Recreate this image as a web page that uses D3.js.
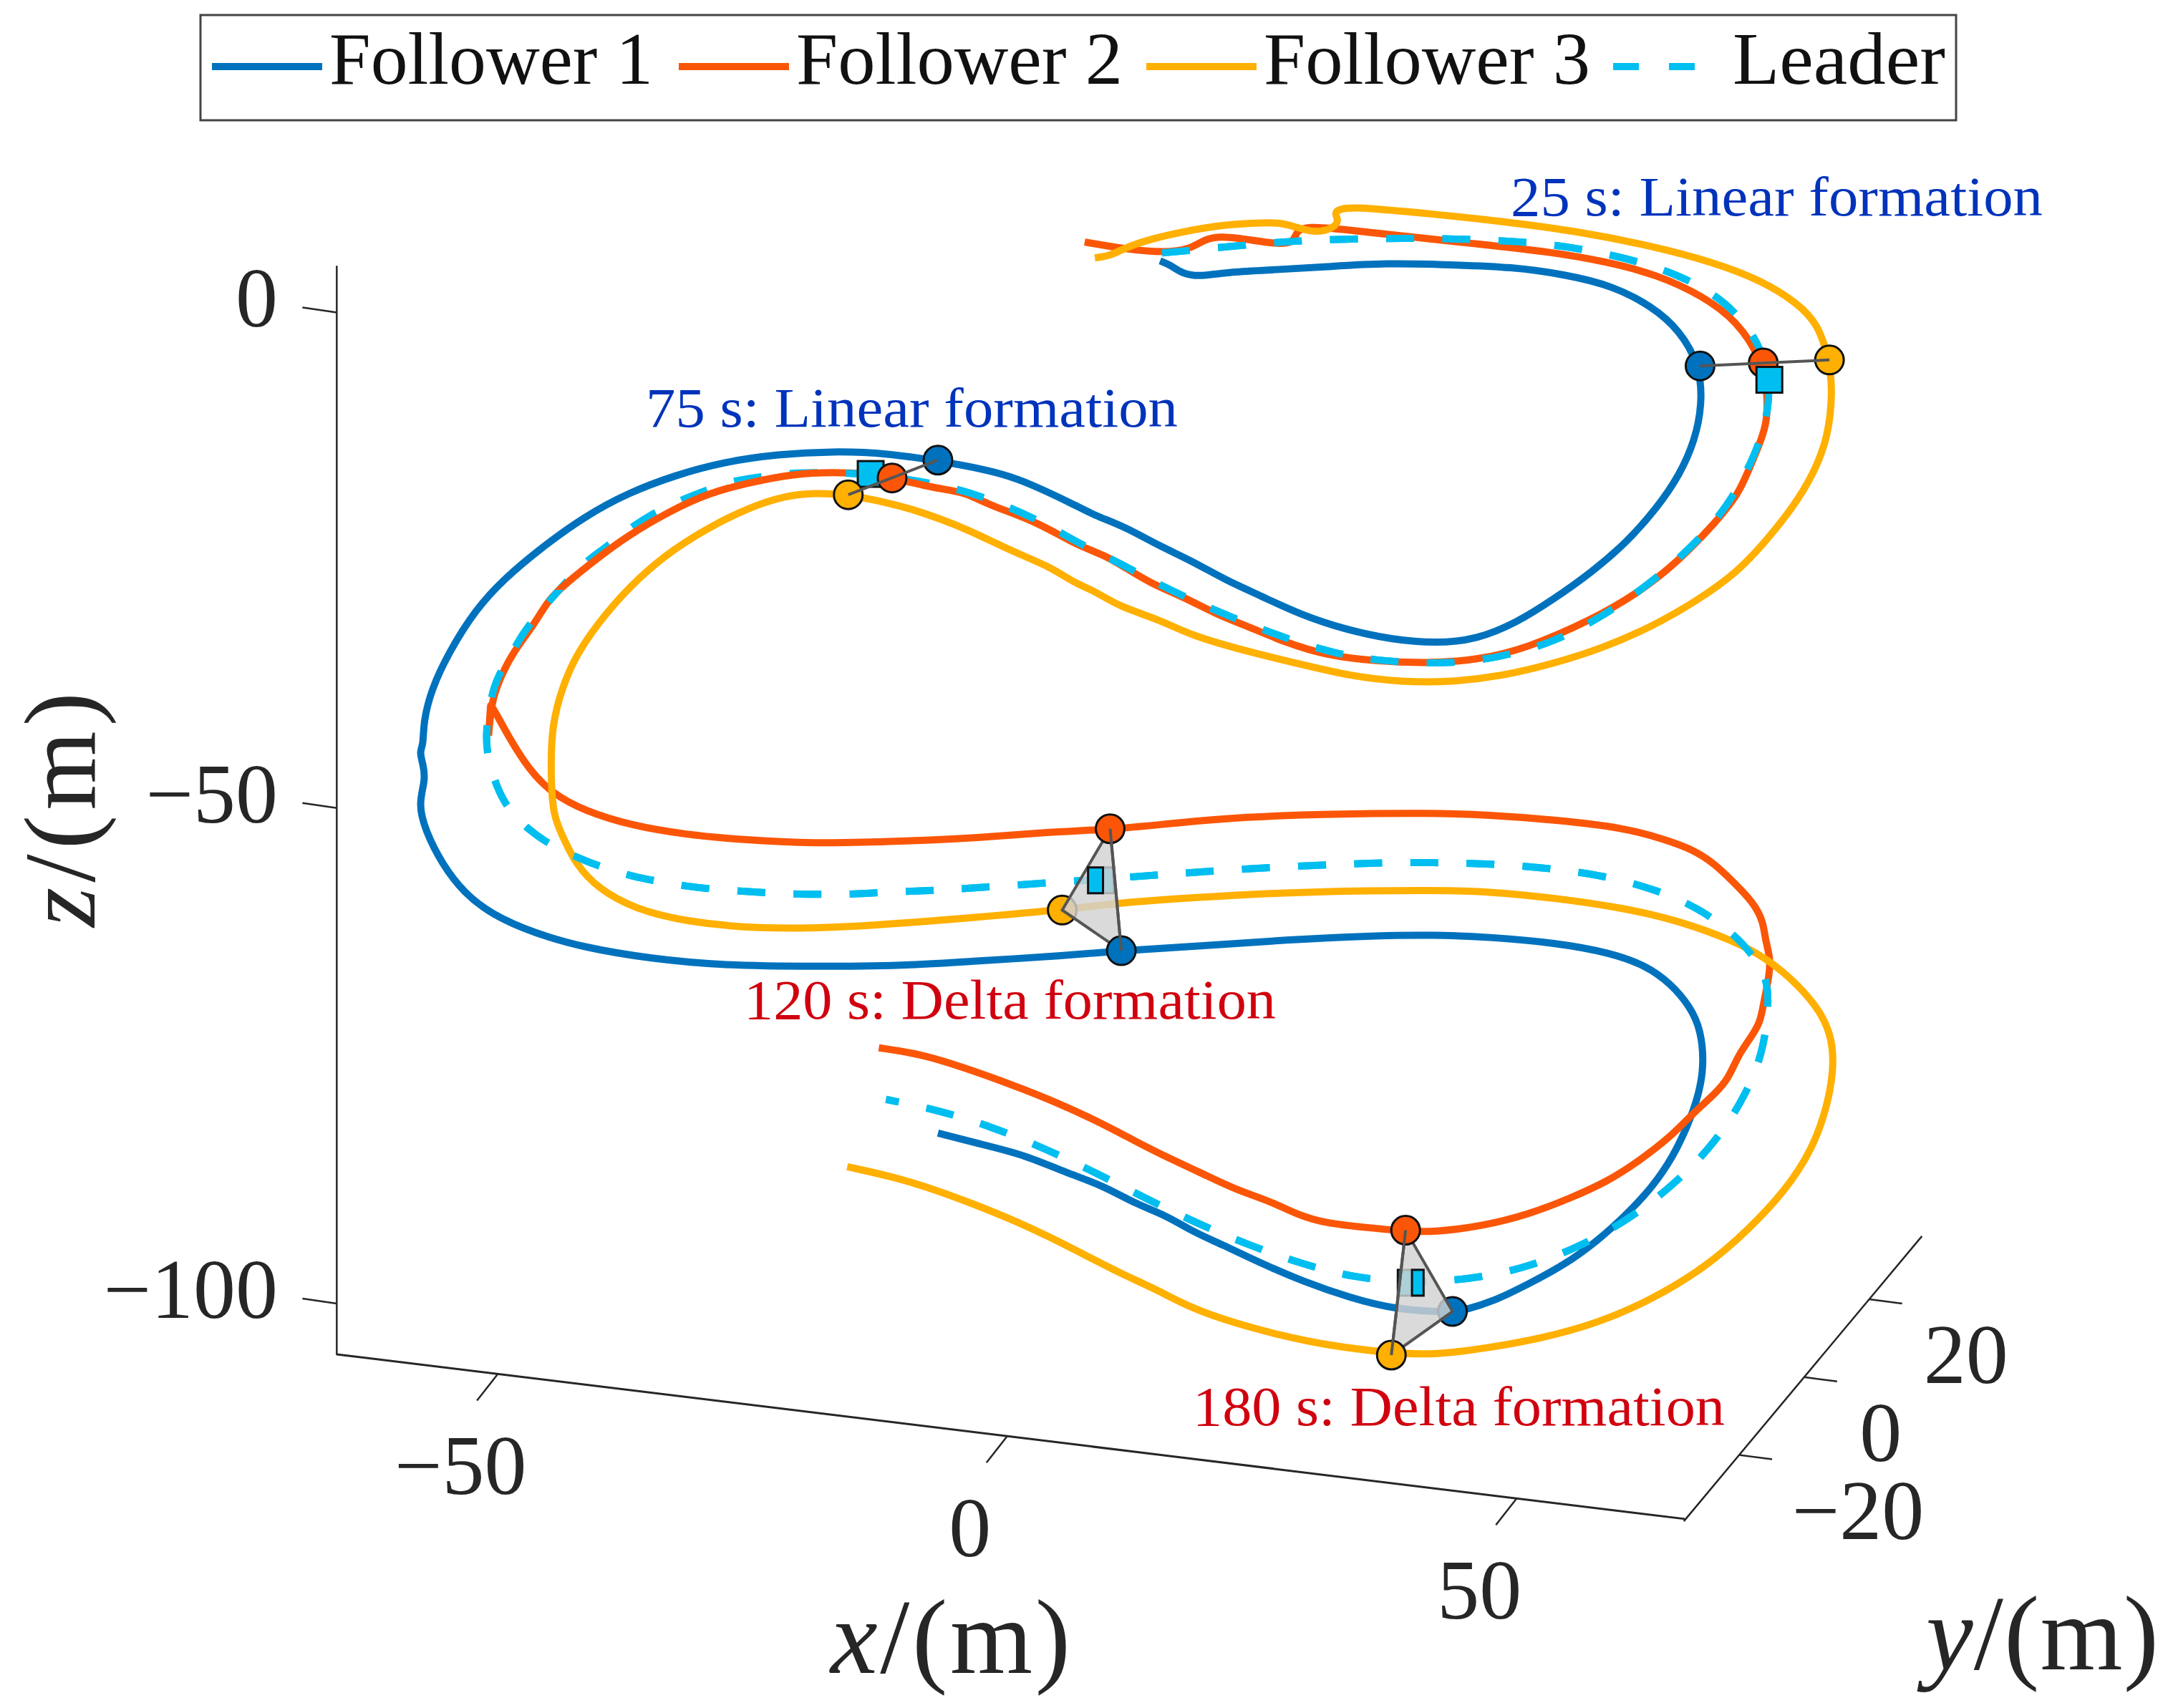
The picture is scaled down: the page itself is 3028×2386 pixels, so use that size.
<!DOCTYPE html>
<html>
<head>
<meta charset="utf-8">
<script src="https://cdn.jsdelivr.net/npm/d3@7/dist/d3.min.js"></script>
<style>html,body{margin:0;padding:0;background:#fff}svg{display:block}text{font-family:"Liberation Serif",serif;fill:#262626}</style>
</head>
<body>
<svg id="chart" width="3028" height="2386" viewBox="0 0 3028 2386"></svg>
<script>
const seriesNames = ["Follower 1", "Follower 2", "Follower 3", "Leader"];
const seriesColors = ["#0072BD", "#FB5607", "#FFB000", "#00BFF0"];
const xTicks = [-50, 0, 50], yTicks = [-20, 0, 20], zTicks = [0, -50, -100];

// [x, z] in metres
const follower1 = [[15.0,5.2],[16.0,4.8],[17.2,3.9],[18.9,3.6],[21.9,4.1],[26.3,4.3],[31.3,4.6],[37.2,5.0],[43.6,4.8],[49.5,4.6],[54.9,3.8],[59.4,2.7],[63.3,0.6],[66.0,-1.8],[68.0,-5.4],[68.2,-9.3],[67.5,-12.9],[66.0,-16.4],[63.8,-19.7],[60.8,-23.2],[57.4,-26.2],[53.4,-29.1],[50.0,-31.3],[46.1,-33.0],[42.1,-33.4],[37.7,-33.0],[33.2,-32.0],[28.8,-30.5],[24.9,-28.6],[21.4,-27.0],[18.0,-25.0],[15.0,-23.6],[11.5,-21.6],[8.6,-20.5],[6.6,-19.4],[2.3,-17.3],[-0.4,-16.3],[-3.9,-15.5],[-6.8,-15.0],[-11.7,-14.2],[-17.1,-14.0],[-22.5,-14.3],[-27.9,-15.1],[-32.5,-16.4],[-37.2,-18.2],[-41.5,-20.6],[-45.8,-23.8],[-49.4,-26.9],[-52.2,-30.0],[-54.8,-34.3],[-56.5,-38.0],[-57.3,-41.3],[-57.3,-43.7],[-57.7,-44.3],[-57.3,-45.7],[-57.1,-47.2],[-57.8,-49.6],[-57.1,-52.3],[-55.5,-55.6],[-53.3,-58.6],[-50.5,-60.8],[-46.5,-62.6],[-41.5,-64.1],[-35.0,-65.2],[-27.9,-65.9],[-18.9,-66.0],[-9.9,-65.9],[-3.9,-65.5],[5.7,-64.9],[11.2,-64.4],[19.3,-63.9],[27.4,-63.3],[35.6,-62.9],[41.8,-62.8],[47.1,-63.0],[53.9,-63.6],[59.2,-64.6],[62.7,-65.9],[65.1,-67.7],[67.0,-70.0],[68.1,-72.4],[68.4,-76.1],[67.8,-79.2],[66.8,-82.0],[65.4,-85.1],[63.3,-88.3],[60.6,-91.2],[57.9,-93.7],[54.7,-96.1],[51.2,-98.0],[47.7,-99.8],[44.7,-100.7],[43.6,-100.9],[38.0,-100.6],[33.6,-99.4],[29.1,-97.8],[24.6,-95.8],[21.0,-94.0],[18.3,-92.8],[15.6,-91.1],[12.5,-89.9],[9.4,-88.1],[5.8,-86.8],[1.7,-85.0],[-2.3,-84.0],[-6.8,-82.8]];

const follower2 = [[7.6,7.1],[11.5,6.4],[15.5,6.0],[18.0,6.4],[19.4,7.4],[20.9,7.7],[23.4,7.4],[26.3,6.9],[28.2,7.0],[28.3,8.2],[29.5,8.7],[32.7,8.4],[37.2,7.9],[46.1,6.9],[53.4,6.1],[58.9,5.1],[63.8,3.8],[68.2,1.7],[71.7,-0.9],[74.1,-4.9],[74.6,-8.0],[74.6,-10.9],[74.0,-12.9],[72.7,-16.1],[71.7,-18.4],[69.7,-21.0],[65.8,-25.2],[61.8,-28.4],[57.4,-31.0],[51.0,-33.9],[46.1,-35.1],[41.1,-35.4],[36.2,-35.2],[31.3,-34.6],[27.3,-33.3],[23.9,-31.8],[20.4,-30.4],[17.5,-28.8],[14.0,-27.3],[11.5,-25.7],[9.6,-24.5],[6.6,-23.4],[3.1,-21.2],[-1.6,-19.5],[-3.9,-18.3],[-5.3,-18.0],[-8.1,-17.5],[-11.3,-16.7],[-13.5,-16.3],[-17.1,-16.1],[-21.0,-16.3],[-25.0,-17.1],[-29.3,-18.2],[-33.2,-20.1],[-37.2,-22.5],[-40.1,-24.7],[-43.5,-27.5],[-45.1,-29.1],[-46.3,-31.3],[-48.5,-34.3],[-49.6,-36.5],[-50.6,-39.1],[-50.9,-42.7],[-50.9,-42.7],[-50.9,-42.7],[-50.7,-39.6],[-50.7,-39.6],[-50.3,-40.2],[-49.0,-42.7],[-46.9,-46.2],[-44.7,-48.5],[-41.5,-50.3],[-36.8,-51.8],[-31.5,-52.7],[-26.1,-53.2],[-18.9,-53.6],[-11.7,-53.4],[-3.9,-53.1],[4.3,-52.4],[10.0,-52.2],[16.6,-51.5],[23.3,-50.9],[31.5,-50.6],[41.8,-50.5],[47.1,-50.7],[53.9,-51.2],[60.6,-52.0],[64.6,-53.2],[67.3,-54.2],[69.4,-55.6],[71.3,-57.5],[73.2,-59.5],[74.2,-61.4],[74.4,-63.4],[75.0,-65.4],[74.6,-67.9],[74.2,-69.9],[73.9,-71.6],[73.1,-73.0],[71.7,-75.0],[70.8,-77.3],[69.4,-78.9],[67.3,-80.8],[65.1,-83.2],[61.9,-85.7],[58.9,-87.7],[55.2,-89.4],[51.2,-91.0],[46.6,-92.2],[41.8,-92.8],[39.0,-92.7],[34.9,-92.3],[31.3,-91.9],[28.6,-91.1],[25.9,-89.7],[22.4,-88.5],[19.2,-86.9],[15.6,-85.2],[12.9,-83.8],[8.9,-81.6],[4.4,-79.5],[-0.1,-77.7],[-4.5,-76.1],[-8.6,-74.8],[-12.6,-74.2]];

const follower3 = [[8.6,5.5],[10.1,5.7],[11.3,6.4],[14.0,7.4],[17.5,8.2],[20.9,8.8],[23.9,9.0],[26.8,9.1],[28.3,8.6],[30.3,8.0],[32.0,8.5],[32.6,9.3],[32.0,10.1],[33.0,10.6],[35.7,10.5],[41.1,10.0],[48.5,9.2],[55.9,8.2],[63.3,6.7],[69.2,5.1],[74.1,3.2],[77.6,0.9],[79.6,-1.2],[80.7,-4.9],[81.0,-8.0],[80.6,-12.5],[79.1,-16.4],[77.1,-19.7],[74.6,-22.9],[71.7,-26.2],[67.7,-29.1],[63.3,-31.7],[58.4,-33.9],[53.4,-35.5],[48.5,-36.7],[43.6,-37.3],[38.7,-37.3],[33.7,-36.7],[28.8,-35.5],[23.9,-34.3],[18.0,-32.6],[15.0,-31.0],[11.0,-29.7],[8.6,-28.1],[6.6,-27.3],[4.3,-25.7],[0.9,-24.3],[-3.9,-21.9],[-6.4,-20.9],[-9.2,-19.9],[-11.7,-19.2],[-15.6,-18.4],[-18.9,-18.2],[-21.8,-18.5],[-25.4,-19.7],[-29.3,-21.7],[-32.9,-24.0],[-36.1,-26.7],[-39.3,-30.2],[-42.2,-34.3],[-43.6,-37.6],[-44.7,-41.6],[-44.8,-46.4],[-44.6,-50.8],[-43.5,-53.1],[-42.4,-55.6],[-40.1,-58.2],[-36.5,-60.2],[-31.5,-61.5],[-24.3,-62.2],[-17.1,-62.1],[-9.9,-61.6],[-3.9,-61.1],[5.3,-60.3],[12.5,-59.4],[20.6,-58.9],[30.1,-58.4],[41.8,-58.3],[47.1,-58.4],[53.9,-59.1],[60.6,-60.1],[66.0,-61.4],[71.3,-63.4],[74.6,-65.2],[77.5,-67.7],[79.9,-70.6],[81.0,-73.4],[81.1,-76.5],[80.5,-80.0],[79.1,-84.3],[76.4,-88.6],[72.7,-92.6],[68.6,-96.3],[63.3,-99.6],[57.9,-102.0],[52.5,-103.5],[47.1,-104.5],[41.8,-105.2],[37.6,-105.0],[31.3,-104.2],[26.8,-103.2],[22.4,-102.0],[17.9,-100.4],[14.7,-98.6],[11.2,-97.0],[8.0,-95.3],[4.4,-93.4],[0.9,-91.7],[-3.2,-90.0],[-6.8,-88.6],[-11.2,-87.2],[-15.7,-86.2]];

const leader = [[15.2,6.0],[22.4,6.7],[27.8,7.2],[33.2,7.4],[38.9,7.5],[44.3,7.4],[50.0,7.2],[55.4,6.6],[60.8,5.5],[66.0,3.8],[70.7,1.1],[73.9,-3.1],[74.9,-7.0],[74.6,-10.6],[73.4,-14.5],[70.7,-19.7],[67.0,-23.9],[62.8,-27.6],[58.4,-30.7],[53.4,-33.4],[48.0,-34.9],[42.6,-35.5],[36.9,-35.2],[32.3,-34.5],[26.3,-32.6],[16.5,-28.4],[11.1,-25.3],[6.6,-23.1],[4.3,-21.6],[-1.1,-19.0],[-6.5,-17.3],[-13.4,-16.3],[-16.0,-16.2],[-20.7,-16.1],[-24.3,-16.6],[-27.0,-17.0],[-29.7,-18.0],[-32.2,-19.0],[-35.0,-20.4],[-37.2,-21.9],[-39.5,-23.8],[-41.5,-25.2],[-44.2,-28.2],[-47.4,-32.1],[-48.1,-33.5],[-50.1,-36.8],[-50.7,-39.1],[-51.2,-42.4],[-51.0,-45.0],[-50.1,-47.9],[-49.0,-50.1],[-46.9,-52.3],[-44.7,-53.8],[-42.0,-55.1],[-39.7,-56.0],[-36.8,-56.9],[-34.3,-57.4],[-31.5,-57.9],[-28.8,-58.2],[-25.9,-58.4],[-23.2,-58.6],[-20.5,-58.7],[-17.8,-58.7],[-15.0,-58.7],[-12.3,-58.5],[-9.4,-58.4],[-6.7,-58.3],[-3.9,-58.1],[9.2,-57.2],[17.9,-56.5],[27.4,-55.9],[36.9,-55.5],[41.8,-55.5],[47.0,-55.6],[52.5,-56.0],[58.0,-56.7],[63.4,-58.1],[68.4,-60.3],[72.5,-63.8],[74.4,-66.7],[74.8,-69.1],[74.3,-74.6],[72.1,-79.8],[68.9,-84.5],[65.0,-88.4],[60.6,-91.8],[55.7,-94.5],[50.6,-96.5],[45.2,-97.6],[39.6,-97.9],[34.0,-97.4],[28.9,-96.0],[23.7,-94.1],[18.6,-91.9],[13.6,-89.4],[8.7,-86.8],[3.8,-84.4],[-1.4,-82.2],[-6.7,-80.5],[-11.9,-79.4]];

// Formation snapshots: [follower 1, follower 2, follower 3, leader] positions
const snapTimes = [25, 75, 120, 180];
const snapFormation = ["Linear", "Linear", "Delta", "Delta"];
const snapX = [[68.0,74.2,80.7,74.8],[-6.8,-11.3,-15.6,-13.4],[11.2,10.1,5.4,9.2],[43.7,39.1,37.7,39.6]];
const snapZ = [[-5.4,-5.1,-4.8,-6.8],[-14.9,-16.7,-18.4,-16.3],[-64.4,-52.1,-60.3,-57.3],[-100.8,-92.6,-105.2,-97.9]];

const svg = d3.select("#chart");
const xS = d3.scaleLinear().domain([-50, 50]).range([695.2, 2118.3]);
const zS = d3.scaleLinear().domain([0, -100]).range([436.4, 1821]);
const xFloorY = d3.scaleLinear().domain([-50, 50]).range([1919.4, 2093.2]);
const yFloorX = d3.scaleLinear().domain([-20, 20]).range([2429, 2610.7]);
const yFloorY = d3.scaleLinear().domain([-20, 20]).range([2032.6, 1815]);
const xExtent = [-65.8, 66.5], yExtent = [-37, 36.2], zExtent = [4.7, -105.2];
const wallX = xS(xExtent[0]);
const ink = "#262626";

// axes
const axes = svg.append("g").attr("stroke", ink).attr("fill", "none");
function seg(g, a, b, c, d, w) { g.append("line").attr("x1", a).attr("y1", b).attr("x2", c).attr("y2", d).attr("stroke-width", w); }
seg(axes, wallX, zS(zExtent[0]), wallX, zS(zExtent[1]), 2.5);
seg(axes, xS(xExtent[0]), xFloorY(xExtent[0]), xS(xExtent[1]), xFloorY(xExtent[1]), 3);
seg(axes, yFloorX(yExtent[0]), yFloorY(yExtent[0]), yFloorX(yExtent[1]), yFloorY(yExtent[1]), 2.5);
zTicks.forEach(t => seg(axes, wallX, zS(t), wallX - 48, zS(t) - 7, 2.5));
xTicks.forEach(t => seg(axes, xS(t), xFloorY(t), xS(t) - 29, xFloorY(t) + 37, 2.5));
yTicks.forEach(t => seg(axes, yFloorX(t), yFloorY(t), yFloorX(t) + 46, yFloorY(t) + 6, 2.5));

const fmt = t => String(t).replace("-", "\u2212");
const tickFont = 118;
zTicks.forEach(t => svg.append("text").attr("x", 388).attr("y", zS(t) + 20).attr("text-anchor", "end").attr("font-size", tickFont).text(fmt(t)));
xTicks.forEach(t => svg.append("text").attr("x", xS(t) - 52).attr("y", xFloorY(t) + 168).attr("text-anchor", "middle").attr("font-size", tickFont).text(fmt(t)));
const yLabelShift = t => t < 0 ? 166 : t === 0 ? 107 : 135;
yTicks.forEach(t => svg.append("text").attr("x", yFloorX(t) + yLabelShift(t)).attr("y", yFloorY(t) + 117).attr("text-anchor", "middle").attr("font-size", tickFont).text(fmt(t)));

// axis labels
function axisLabel(sel, letter, len, size) {
  sel.attr("font-size", size).attr("textLength", len).attr("lengthAdjust", "spacing");
  sel.append("tspan").attr("font-style", "italic").text(letter);
  sel.append("tspan").text("/(m)");
}
axisLabel(svg.append("text").attr("x", 1160).attr("y", 2337), "x", 335, 148);
axisLabel(svg.append("text").attr("x", 2690).attr("y", 2332), "y", 325, 148);
axisLabel(svg.append("text").attr("transform", "translate(132,1295) rotate(-90)"), "z", 328, 142);

// trajectories
const line = d3.line().x(d => xS(d[0])).y(d => zS(d[1])).curve(d3.curveBasis);
const lineW = 10, dashLen = 39, dashPeriod = 78, tailDash = 19;
function trail(pts, i) {
  const p = svg.append("path").datum(pts).attr("d", line).attr("fill", "none")
    .attr("stroke", seriesColors[i]).attr("stroke-width", lineW);
  if (i === 3) {
    // period nudged so the run finishes on the short dash the picture shows
    const L = p.node().getTotalLength() - tailDash;
    const period = L / Math.round(L / dashPeriod);
    p.attr("stroke-dasharray", `${dashLen} ${period - dashLen}`);
  }
  return p;
}
// where the leader passes behind follower 2 near the 75 s arc
const frontBands = [[0,0,3028,620],[0,824,3028,1562],[1160,620,80,204],[1320,620,1708,204],[1240,700,80,124]];
svg.append("clipPath").attr("id", "leaderFront").selectAll("rect").data(frontBands).join("rect")
  .attr("x", d => d[0]).attr("y", d => d[1]).attr("width", d => d[2]).attr("height", d => d[3]);
trail(follower1, 0);
trail(leader, 3);
trail(follower2, 1);
trail(follower3, 2);
trail(leader, 3).attr("clip-path", "url(#leaderFront)");

// snapshots
function dot(i, k) {
  svg.append("circle").attr("cx", xS(snapX[i][k])).attr("cy", zS(snapZ[i][k])).attr("r", 20)
    .attr("fill", seriesColors[k]).attr("stroke", "#111").attr("stroke-width", 3);
}
function square(i, frac, fromRight) {
  const s = 36, cx = xS(snapX[i][3]), cy = zS(snapZ[i][3]);
  const w = s * frac, left = fromRight ? cx + s / 2 - w : cx - s / 2;
  svg.append("rect").attr("x", left).attr("y", cy - s / 2).attr("width", w).attr("height", s)
    .attr("fill", seriesColors[3]).attr("stroke", "#111").attr("stroke-width", 3);
}
function link(i, a, b, w) {
  svg.append("line").attr("x1", xS(snapX[i][a])).attr("y1", zS(snapZ[i][a])).attr("x2", xS(snapX[i][b])).attr("y2", zS(snapZ[i][b]))
    .attr("stroke", "#555").attr("stroke-width", w || 4);
}
function triangle(i) {
  const pts = [0, 1, 2].map(k => [xS(snapX[i][k]), zS(snapZ[i][k])]);
  svg.append("polygon").attr("points", pts.map(p => p.join(",")).join(" "))
    .attr("fill", "#d2d2d2").attr("fill-opacity", 0.82).attr("stroke", "#555").attr("stroke-width", 4);
}
// 25 s
[0, 1, 2].forEach(k => dot(0, k)); link(0, 0, 2); square(0, 1, false);
// 75 s
square(1, 1, false); [2, 1, 0].forEach(k => dot(1, k)); link(1, 2, 0);
// 120 s
square(2, 1, false); dot(2, 2); triangle(2); square(2, 0.58, false); dot(2, 0); dot(2, 1); link(2, 1, 0);
// 180 s
square(3, 1, false); dot(3, 0); triangle(3); square(3, 0.45, true); dot(3, 2); dot(3, 1); link(3, 1, 2);

// annotations
const noteColors = { Linear: "#0033BB", Delta: "#D0000F" };
const noteX = [2110, 902, 1039, 1666], noteY = [301, 596, 1423, 1991];
snapTimes.forEach((t, i) => svg.append("text").attr("x", noteX[i]).attr("y", noteY[i]).attr("font-size", 78)
  .attr("textLength", 743).attr("lengthAdjust", "spacingAndGlyphs")
  .style("fill", noteColors[snapFormation[i]]).text(`${t} s: ${snapFormation[i]} formation`));

// legend
const legend = svg.append("g");
legend.append("rect").attr("x", 280).attr("y", 21).attr("width", 2452).attr("height", 147).attr("fill", "#fff").attr("stroke", "#444").attr("stroke-width", 3);
const legendLineX = [296, 948, 1601, 2253], legendTextX = [460, 1112, 1765, 2420], legendTextW = [452, 456, 456, 297];
seriesNames.forEach((n, i) => {
  legend.append("line").attr("x1", legendLineX[i]).attr("x2", legendLineX[i] + (i === 3 ? 118 : 154)).attr("y1", 93).attr("y2", 93)
    .attr("stroke", seriesColors[i]).attr("stroke-width", lineW).attr("stroke-dasharray", i === 3 ? "36 42" : null);
  legend.append("text").attr("x", legendTextX[i]).attr("y", 117).attr("font-size", 104)
    .attr("textLength", legendTextW[i]).attr("lengthAdjust", "spacingAndGlyphs").style("fill", "#111").text(n);
});
</script>
</body>
</html>
